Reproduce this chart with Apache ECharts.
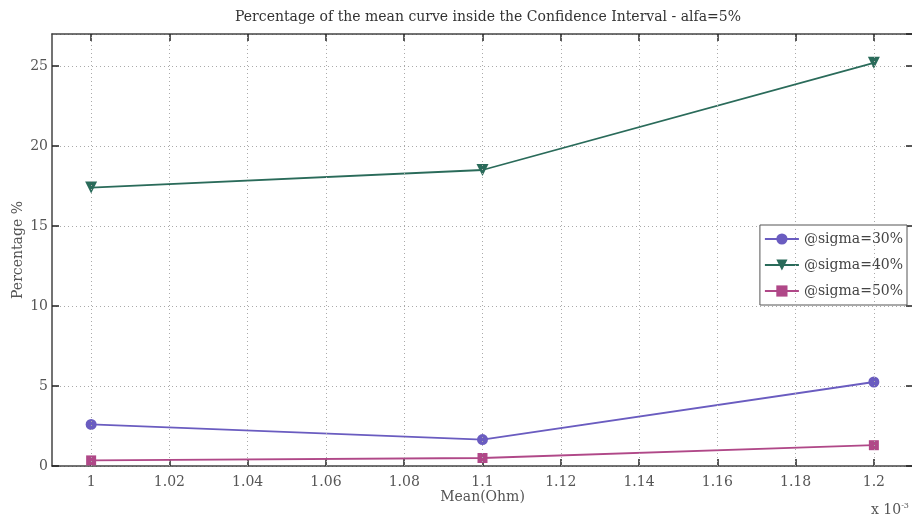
<!DOCTYPE html>
<html>
<head>
<meta charset="utf-8">
<script src="https://cdn.jsdelivr.net/npm/echarts@6/dist/echarts.min.js"></script>
<style>
  html, body { margin: 0; padding: 0; background: #fff; }
  #chart { width: 912px; height: 517px; }
</style>
</head>
<body>
<div id="chart"></div>
<script>
// Mean resistance (in units of 1e-3 Ohm)
const means = [1.0, 1.1, 1.2];
// Percentage of the mean curve inside the confidence interval, per sigma
const sigma30 = [2.6, 1.65, 5.25];
const sigma40 = [17.4, 18.5, 25.2];
const sigma50 = [0.35, 0.5, 1.3];
const seriesNames = ['@sigma=30%', '@sigma=40%', '@sigma=50%'];
// Axis ranges and tick positions
const xRange = [0.99, 1.21];
const xTicks = [1.0, 1.02, 1.04, 1.06, 1.08, 1.1, 1.12, 1.14, 1.16, 1.18, 1.2];
const yRange = [0, 27];
const yStep = 5;

const FONT = '"DejaVu Serif", "Liberation Serif", serif';
const TEXT = '#555';
const FRAME = '#444';
const GRID_COLOR = '#aaa';

const pairs = vals => means.map((m, i) => [m, vals[i]]);
const fmtX = v => String(Math.round(v * 100) / 100);

const chart = echarts.init(document.getElementById('chart'));

const tickStyle = { color: '#222', width: 1.5 };
const dotted = { color: GRID_COLOR, type: [1, 3], width: 1 };

chart.setOption({
  animation: false,
  backgroundColor: '#fff',
  title: {
    text: 'Percentage of the mean curve inside the Confidence Interval - alfa=5%',
    left: 483, top: 5, textAlign: 'center',
    textStyle: { fontFamily: FONT, fontSize: 14, fontWeight: 'normal', color: '#333' }
  },
  grid: { left: 52, right: -1, top: 34, bottom: 51, containLabel: false, outerBoundsMode: 'none' },
  legend: {
    right: 5, top: 225, orient: 'vertical',
    padding: [7, 4, 7, 4],
    itemGap: 12,
    itemWidth: 34, itemHeight: 14,
    backgroundColor: '#fff',
    borderColor: '#555', borderWidth: 1,
    textStyle: { fontFamily: FONT, fontSize: 14, color: '#444' },
    data: seriesNames
  },
  xAxis: [{
    type: 'value', min: xRange[0], max: xRange[1],
    name: 'Mean(Ohm)', nameLocation: 'middle', nameGap: 24, nameMoveOverlap: false,
    nameTextStyle: { fontFamily: FONT, fontSize: 14, color: TEXT },
    axisLine: { show: true, onZero: false, lineStyle: { color: FRAME, width: 1.5 } },
    axisTick: { show: true, inside: true, length: 7, customValues: xTicks, lineStyle: tickStyle },
    axisLabel: { customValues: xTicks, formatter: fmtX, fontFamily: FONT, fontSize: 14, color: TEXT, margin: 9 },
    splitLine: { show: false }
  }, {
    type: 'value', min: xRange[0], max: xRange[1], position: 'top',
    axisLine: { show: true, onZero: false, lineStyle: { color: FRAME, width: 1.5 } },
    axisTick: { show: true, inside: true, length: 7, customValues: xTicks, lineStyle: tickStyle },
    axisLabel: { show: false, customValues: xTicks },
    splitLine: { show: false }
  }],
  yAxis: [{
    type: 'value', min: yRange[0], max: yRange[1], interval: yStep,
    name: 'Percentage %', nameLocation: 'middle', nameGap: 27, nameRotate: 90, nameMoveOverlap: false,
    nameTextStyle: { fontFamily: FONT, fontSize: 14, color: TEXT },
    axisLine: { show: true, onZero: false, lineStyle: { color: FRAME, width: 1.5 } },
    axisTick: { show: true, inside: true, length: 7, lineStyle: tickStyle },
    axisLabel: { showMaxLabel: false, fontFamily: FONT, fontSize: 14, color: TEXT, margin: 4 },
    splitLine: { show: true, lineStyle: dotted }
  }, {
    type: 'value', min: yRange[0], max: yRange[1], interval: yStep, position: 'right',
    axisLine: { show: true, onZero: false, lineStyle: { color: FRAME, width: 1.5 } },
    axisTick: { show: true, inside: true, length: 7, lineStyle: tickStyle },
    axisLabel: { show: false },
    splitLine: { show: false }
  }],
  graphic: [{
    type: 'text', left: 871, top: 502,
    style: {
      text: 'x 10{s|-3}', fontFamily: FONT, fontSize: 14, fill: TEXT,
      rich: { s: { fontSize: 8, verticalAlign: 'top', padding: [0, 0, 8, 0], fill: TEXT, fontFamily: FONT } }
    }
  }],
  series: [{
    // vertical dotted grid at each labelled x tick
    name: 'xgrid', type: 'line', data: [], z: 0, silent: true,
    markLine: {
      silent: true, symbol: ['none', 'none'], label: { show: false },
      lineStyle: dotted, emphasis: { disabled: true },
      data: xTicks.map(v => ({ xAxis: v }))
    }
  }, {
    name: seriesNames[0], type: 'line', data: pairs(sigma30),
    symbol: 'circle', symbolSize: 11,
    itemStyle: { color: '#6a5cc0' }, lineStyle: { color: '#6a5cc0', width: 1.8 }
  }, {
    name: seriesNames[1], type: 'line', data: pairs(sigma40),
    symbol: 'triangle', symbolRotate: 180, symbolSize: 12,
    itemStyle: { color: '#2a6b5a' }, lineStyle: { color: '#2a6b5a', width: 1.8 }
  }, {
    name: seriesNames[2], type: 'line', data: pairs(sigma50),
    symbol: 'rect', symbolSize: 10,
    itemStyle: { color: '#b04888' }, lineStyle: { color: '#b04888', width: 1.8 }
  }]
});
</script>
</body>
</html>
